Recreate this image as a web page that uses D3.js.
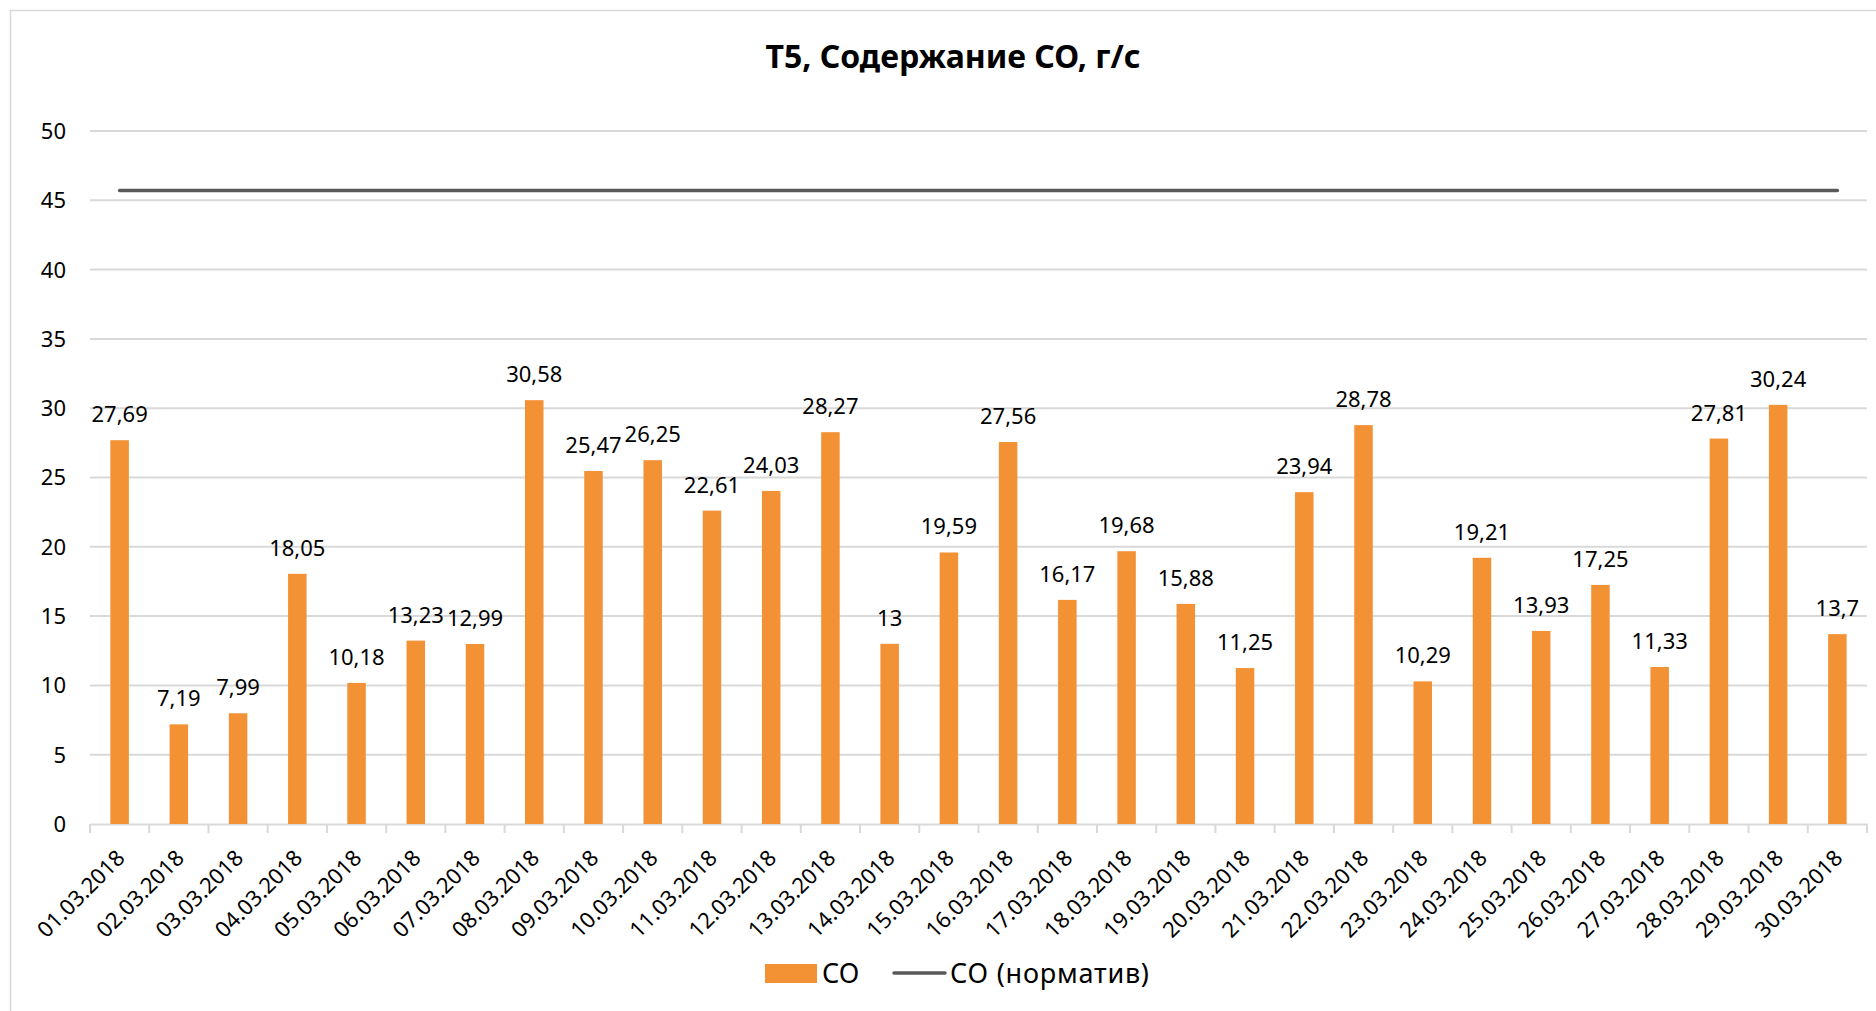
<!DOCTYPE html>
<html>
<head>
<meta charset="utf-8">
<script src="https://cdn.jsdelivr.net/npm/d3@7"></script>
<style>
  body { margin: 0; background: #fff; }
  text { font-family: "Noto Sans", sans-serif; fill: #000; }
</style>
</head>
<body>
<svg id="chart" width="1876" height="1011"></svg>
<script>
// data
var dates = ["01.03.2018","02.03.2018","03.03.2018","04.03.2018","05.03.2018","06.03.2018",
  "07.03.2018","08.03.2018","09.03.2018","10.03.2018","11.03.2018","12.03.2018","13.03.2018",
  "14.03.2018","15.03.2018","16.03.2018","17.03.2018","18.03.2018","19.03.2018","20.03.2018",
  "21.03.2018","22.03.2018","23.03.2018","24.03.2018","25.03.2018","26.03.2018","27.03.2018",
  "28.03.2018","29.03.2018","30.03.2018"];
var coValues = [27.69,7.19,7.99,18.05,10.18,13.23,12.99,30.58,25.47,26.25,22.61,24.03,28.27,
  13,19.59,27.56,16.17,19.68,15.88,11.25,23.94,28.78,10.29,19.21,13.93,17.25,11.33,27.81,30.24,13.7];
var normValues = [45.7,45.7,45.7,45.7,45.7,45.7,45.7,45.7,45.7,45.7,45.7,45.7,45.7,45.7,45.7,
  45.7,45.7,45.7,45.7,45.7,45.7,45.7,45.7,45.7,45.7,45.7,45.7,45.7,45.7,45.7];
var yTicks = [0,5,10,15,20,25,30,35,40,45,50];

function drawChart() {
    var svg = d3.select("#chart");
    var plotLeft = 90, plotRight = 1867, plotTop = 131, plotBottom = 824;

    // outer frame
    svg.append("rect")
        .attr("x", 10.5).attr("y", 10.5)
        .attr("width", 1900).attr("height", 1100)
        .attr("fill", "none")
        .attr("stroke", "#d9d9d9")
        .attr("stroke-width", 1.5);

    var x = d3.scaleBand().domain(dates).range([plotLeft, plotRight]).padding(0);
    var y = d3.scaleLinear().domain([0, 50]).range([plotBottom, plotTop]);
    var cx = function(d){ return x(d) + x.bandwidth()/2; };

    // title
    svg.append("text")
        .attr("x", 953).attr("y", 68)
        .attr("text-anchor", "middle")
        .style("font-size", "32px")
        .style("font-weight", "bold")
        .text("Т5, Содержание СО, г/с");

    // grid lines
    svg.append("g")
        .selectAll("line")
        .data(yTicks.filter(function(d){ return d > 0; }))
        .enter().append("line")
        .attr("x1", plotLeft).attr("x2", plotRight)
        .attr("y1", function(d){ return y(d); })
        .attr("y2", function(d){ return y(d); })
        .attr("stroke", "#d9d9d9")
        .attr("stroke-width", 2);

    // y labels
    svg.append("g")
        .selectAll("text")
        .data(yTicks)
        .enter().append("text")
        .attr("x", 66)
        .attr("y", function(d){ return y(d); })
        .attr("dy", "0.36em")
        .attr("text-anchor", "end")
        .style("font-size", "22px")
        .text(function(d){ return d; });

    // x axis
    var xAxis = svg.append("g")
        .attr("transform", "translate(0," + plotBottom + ")")
        .call(d3.axisBottom(x).tickSize(0).tickFormat(""));
    xAxis.select(".domain").attr("stroke", "#d9d9d9").attr("stroke-width", 2);

    var bounds = dates.map(function(d){ return x(d); }).concat([plotRight]);
    svg.append("g")
        .selectAll("line")
        .data(bounds)
        .enter().append("line")
        .attr("x1", function(d){ return d; })
        .attr("x2", function(d){ return d; })
        .attr("y1", plotBottom).attr("y2", plotBottom + 9)
        .attr("stroke", "#d9d9d9")
        .attr("stroke-width", 2);

    svg.append("g")
        .selectAll("text")
        .data(dates)
        .enter().append("text")
        .attr("transform", function(d){
            return "translate(" + (cx(d) + 1) + "," + (plotBottom + 30) + ") rotate(-45)";
        })
        .attr("text-anchor", "end")
        .attr("dy", "0.35em")
        .style("font-size", "22px")
        .text(function(d){ return d; });

    // bars
    var barW = 18.5;
    svg.append("g")
        .selectAll("rect")
        .data(coValues)
        .enter().append("rect")
        .attr("x", function(d, i){ return cx(dates[i]) - barW/2; })
        .attr("y", function(d){ return y(d); })
        .attr("width", barW)
        .attr("height", function(d){ return plotBottom - y(d); })
        .attr("fill", "#f39135");

    // bar labels
    svg.append("g")
        .selectAll("text")
        .data(coValues)
        .enter().append("text")
        .attr("x", function(d, i){ return cx(dates[i]); })
        .attr("y", function(d){ return y(d) - 18; })
        .attr("text-anchor", "middle")
        .style("font-size", "22px")
        .text(function(d){ return String(d).replace(".", ","); });

    // norm line
    var line = d3.line()
        .x(function(d, i){ return cx(dates[i]); })
        .y(function(d){ return y(d); });
    svg.append("path")
        .datum(normValues)
        .attr("d", line)
        .attr("fill", "none")
        .attr("stroke", "#595959")
        .attr("stroke-width", 3.5)
        .attr("stroke-linecap", "round");

    // legend
    var lg = svg.append("g");
    lg.append("rect")
        .attr("x", 765).attr("y", 964)
        .attr("width", 52).attr("height", 19)
        .attr("fill", "#f39135");
    lg.append("text")
        .attr("x", 822).attr("y", 983)
        .style("font-size", "27px")
        .text("СО");
    lg.append("line")
        .attr("x1", 894).attr("x2", 945)
        .attr("y1", 973).attr("y2", 973)
        .attr("stroke", "#595959")
        .attr("stroke-width", 3.5)
        .attr("stroke-linecap", "round");
    lg.append("text")
        .attr("x", 950).attr("y", 983)
        .style("font-size", "27px")
        .style("letter-spacing", "0.8px")
        .text("СО (норматив)");
}

drawChart();
</script>
</body>
</html>
